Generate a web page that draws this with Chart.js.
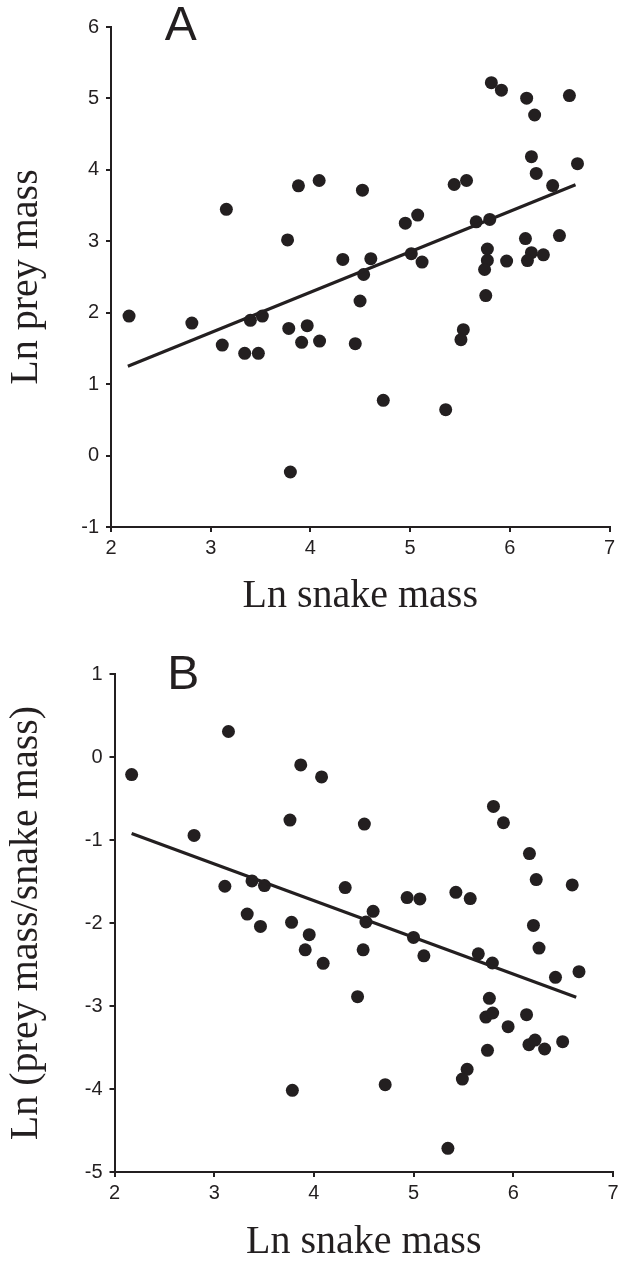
<!DOCTYPE html>
<html>
<head>
<meta charset="utf-8">
<script src="https://cdn.jsdelivr.net/npm/chart.js@4.4.1/dist/chart.umd.min.js"></script>
<style>
  html, body { margin: 0; padding: 0; background: #ffffff; }
  body { width: 624px; height: 1262px; position: relative; overflow: hidden; }
  canvas { position: absolute; left: 0; }
  #chartA { top: 0; }
  #chartB { top: 620px; }
</style>
</head>
<body>
<canvas id="chartA" width="624" height="616"></canvas>
<canvas id="chartB" width="624" height="642"></canvas>
<script>
// ---------- Panel A data: Ln snake mass vs Ln prey mass ----------
const snakeMassA = [5.815, 5.916, 6.169, 6.598, 6.249, 6.217, 6.679, 6.265, 6.43, 4.088,
  3.88, 4.522, 5.442, 5.566, 3.157, 5.076, 4.952, 5.663, 5.799, 3.771,
  6.157, 6.498, 5.775, 5.012, 5.12, 4.325, 4.606, 5.775, 5.968, 6.217,
  6.177, 6.337, 5.747, 4.534, 4.498, 5.759, 2.181, 2.811, 3.116, 3.341,
  3.478, 3.398, 3.518, 3.783, 3.912, 3.968, 4.092, 4.45, 5.534, 5.51,
  4.731, 5.357, 3.799];
const preyMassA = [5.22, 5.116, 5.003, 5.04, 4.768, 4.185, 4.087, 3.95, 3.78, 3.851,
  3.776, 3.715, 3.795, 3.851, 3.447, 3.367, 3.254, 3.273, 3.306, 3.019,
  3.038, 3.08, 2.892, 2.826, 2.709, 2.746, 2.756, 2.732, 2.723, 2.84,
  2.73, 2.81, 2.605, 2.535, 2.164, 2.24, 1.953, 1.855, 1.547, 1.431,
  1.431, 1.893, 1.953, 1.78, 1.585, 1.818, 1.603, 1.566, 1.762, 1.622,
  0.773, 0.643, -0.23];
const fitXA = [2.169, 6.659];
const fitYA = [1.249, 3.79];

// ---------- Panel B data: Ln snake mass vs Ln (prey mass/snake mass) ----------
const snakeMassB = [2.172, 3.143, 2.798, 3.868, 4.077, 3.76, 4.506, 5.801, 5.901, 6.162,
  6.23, 6.591, 3.107, 3.379, 3.504, 4.314, 4.935, 5.063, 5.424, 5.568,
  3.331, 3.464, 3.776, 4.594, 4.522, 3.953, 4.999, 6.202, 6.258, 3.913,
  4.494, 5.103, 5.649, 4.093, 4.438, 5.79, 6.423, 6.659, 5.76, 5.725,
  5.793, 6.133, 5.948, 6.157, 6.218, 6.314, 6.495, 5.741, 5.537, 5.489,
  3.784, 4.715, 5.344];
const ratioB = [-0.212, 0.307, -0.945, -0.095, -0.24, -0.76, -0.808, -0.595, -0.792, -1.163,
  -1.477, -1.541, -1.557, -1.493, -1.549, -1.573, -1.694, -1.71, -1.63, -1.706,
  -1.892, -2.041, -1.992, -1.859, -1.988, -2.141, -2.174, -2.029, -2.302, -2.323,
  -2.323, -2.395, -2.371, -2.486, -2.888, -2.482, -2.655, -2.586, -2.908, -3.133,
  -3.084, -3.104, -3.249, -3.466, -3.41, -3.518, -3.43, -3.534, -3.763, -3.88,
  -4.016, -3.948, -4.715];
const fitXB = [2.172, 6.631];
const fitYB = [-0.921, -2.896];

// ---------- Axes ----------
const xTicks = [2, 3, 4, 5, 6, 7];
const yTicksA = [-1, 0, 1, 2, 3, 4, 5, 6];
const yTicksB = [-5, -4, -3, -2, -1, 0, 1];
const xTitle = 'Ln snake mass';
const yTitleA = 'Ln prey mass';
const yTitleB = 'Ln (prey mass/snake mass)';

const INK = '#231f20';
const toPts = (xs, ys) => xs.map((x, i) => ({ x: x, y: ys[i] }));

const panelLabel = {
  id: 'panelLabel',
  afterDraw(chart, args, opts) {
    const ctx = chart.ctx;
    const xs = chart.scales.x, ys = chart.scales.y;
    ctx.save();
    ctx.fillStyle = INK;
    ctx.font = '48px "Liberation Sans", Arial, sans-serif';
    ctx.textAlign = 'center';
    ctx.textBaseline = 'middle';
    ctx.fillText(opts.text, xs.getPixelForValue(opts.x), ys.getPixelForValue(opts.y));
    ctx.restore();
  }
};

function makeChart(id, pts, fit, yTicks, yTitle, label, geom) {
  const ctx = document.getElementById(id);
  return new Chart(ctx, {
    type: 'scatter',
    data: {
      datasets: [
        {
          data: pts,
          backgroundColor: INK,
          borderColor: INK,
          pointRadius: 6.5,
          pointHoverRadius: 6.5,
          borderWidth: 0,
          order: 2
        },
        {
          type: 'line',
          data: fit,
          borderColor: INK,
          borderWidth: 3.2,
          pointRadius: 0,
          fill: false,
          tension: 0,
          order: 1
        }
      ]
    },
    options: {
      responsive: false,
      animation: false,
      devicePixelRatio: 1,
      layout: { padding: { top: geom.top, right: geom.right, left: 0, bottom: 0 } },
      plugins: {
        legend: { display: false },
        tooltip: { enabled: false },
        panelLabel: label
      },
      scales: {
        x: {
          type: 'linear',
          min: xTicks[0],
          max: xTicks[xTicks.length - 1],
          afterBuildTicks: (s) => { s.ticks = xTicks.map(v => ({ value: v })); },
          afterFit: (s) => { s.height = geom.xHeight; },
          ticks: {
            color: INK,
            padding: 4,
            font: { family: '"Liberation Sans", Arial, sans-serif', size: 20 },
            maxRotation: 0
          },
          grid: { display: true, drawOnChartArea: false, drawTicks: true, tickLength: 5, color: INK, lineWidth: 2 },
          border: { display: true, color: INK, width: 2 },
          title: {
            display: true,
            text: xTitle,
            color: INK,
            padding: { top: 0, bottom: 0 },
            font: { family: '"Liberation Serif", "Times New Roman", serif', size: 40, lineHeight: 1 }
          }
        },
        y: {
          type: 'linear',
          min: yTicks[0],
          max: yTicks[yTicks.length - 1],
          afterBuildTicks: (s) => { s.ticks = yTicks.map(v => ({ value: v })); },
          afterFit: (s) => { s.width = geom.yWidth; },
          ticks: {
            color: INK,
            padding: 7,
            font: { family: '"Liberation Sans", Arial, sans-serif', size: 20 }
          },
          grid: { display: true, drawOnChartArea: false, drawTicks: true, tickLength: 5, color: INK, lineWidth: 2 },
          border: { display: true, color: INK, width: 2 },
          title: {
            display: true,
            text: yTitle,
            color: INK,
            padding: { top: 6, bottom: 0 },
            font: { family: '"Liberation Serif", "Times New Roman", serif', size: 40, lineHeight: 1 }
          }
        }
      }
    },
    plugins: [panelLabel]
  });
}

makeChart('chartA', toPts(snakeMassA, preyMassA), toPts(fitXA, fitYA), yTicksA, yTitleA,
  { text: 'A', x: 2.70, y: 6.0 },
  { top: 27, right: 14.5, yWidth: 111, xHeight: 89 });

makeChart('chartB', toPts(snakeMassB, ratioB), toPts(fitXB, fitYB), yTicksB, yTitleB,
  { text: 'B', x: 2.69, y: 0.98 },
  { top: 54, right: 11, yWidth: 114.5, xHeight: 90 });
</script>
</body>
</html>
